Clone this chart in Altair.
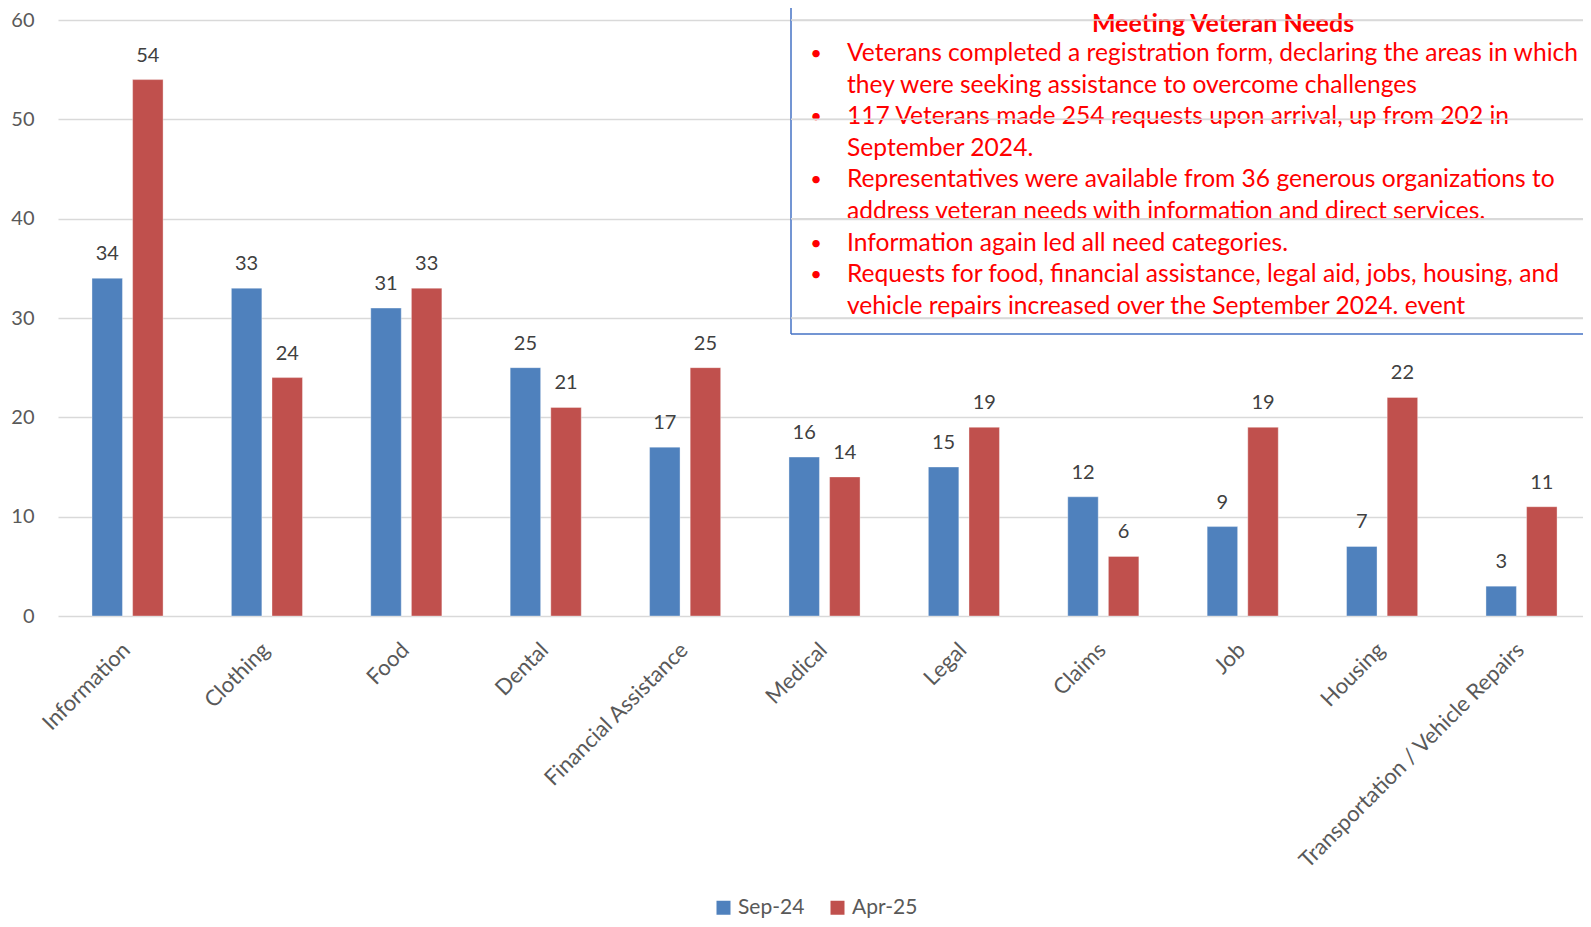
import altair as alt
import pandas as pd

categories = ["Information", "Clothing", "Food", "Dental", "Financial Assistance", "Medical",
              "Legal", "Claims", "Job", "Housing", "Transportation / Vehicle Repairs"]
sep24 = [34, 33, 31, 25, 17, 16, 15, 12, 9, 7, 3]
apr25 = [54, 24, 33, 21, 25, 14, 19, 6, 19, 22, 11]
series = ["Sep-24", "Apr-25"]
colors = ["#4F81BD", "#C0504D"]
y_ticks = [0, 10, 20, 30, 40, 50, 60]

note_title = "Meeting Veteran Needs"
note_lines = [
    "Veterans completed a registration form, declaring the areas in which",
    "they were seeking assistance to overcome challenges",
    "117 Veterans made 254 requests upon arrival, up from 202 in",
    "September 2024.",
    "Representatives were available from 36 generous organizations to",
    "address veteran needs with information and direct services.",
    "Information again led all need categories.",
    "Requests for food, financial assistance, legal aid, jobs, housing, and",
    "vehicle repairs increased over the September 2024. event",
]
note_bullets = [True, False, True, False, True, False, True, True, False]
overlay_grid = [30, 40, 50, 60]

rows = []
for c, a, b in zip(categories, sep24, apr25):
    rows.append({"category": c, "series": series[0], "value": a})
    rows.append({"category": c, "series": series[1], "value": b})
df = pd.DataFrame(rows)

W, H = 1525, 596
FONT = "Lato"

x_enc = alt.X("category:N", sort=categories,
              scale=alt.Scale(paddingInner=0.49, paddingOuter=0.215, align=0.567),
              axis=alt.Axis(title=None, labelAngle=-45, labelFontSize=22, labelColor="#595959",
                            labelBaseline="top", labelAlign="right", labelOffset=-8,
                            labelPadding=23, ticks=False, domain=False, labelLimit=500,
                            labelFont=FONT))
y_enc = alt.Y("value:Q", scale=alt.Scale(domain=[0, 60], nice=False),
              axis=alt.Axis(title=None, values=y_ticks, grid=True, gridColor="#D9D9D9",
                            gridWidth=1.5, ticks=False, domain=False, labelFontSize=20,
                            labelColor="#595959", labelPadding=24, labelFont=FONT))
xoff = alt.XOffset("series:N", sort=series, scale=alt.Scale(paddingInner=0.25, paddingOuter=0))
color_enc = alt.Color("series:N", sort=series,
                      scale=alt.Scale(domain=series, range=colors),
                      legend=alt.Legend(orient="none", legendX=655, legendY=877,
                                        direction="horizontal", title=None, symbolType="square",
                                        symbolSize=196, symbolStrokeWidth=0, labelFontSize=21,
                                        labelColor="#595959", columnPadding=22, padding=0,
                                        labelFont=FONT))

base = alt.Chart(df)
bars = base.mark_bar(stroke="#ffffff", strokeWidth=0.6, strokeOpacity=0.6).encode(
    x=x_enc, y=y_enc, xOffset=xoff, color=color_enc)
labels = base.mark_text(baseline="bottom", dy=-14, fontSize=20, color="#404040", font=FONT).encode(
    x=alt.X("category:N", sort=categories), y="value:Q", xOffset=xoff, text="value:Q")

layers = [bars, labels]

# text box border
layers.append(alt.Chart(pd.DataFrame({"a": [0]})).mark_rule(color="#4472C4", strokeWidth=1.5).encode(
    x=alt.value(733), y=alt.value(-20), y2=alt.value(314)))
layers.append(alt.Chart(pd.DataFrame({"a": [0]})).mark_rule(color="#4472C4", strokeWidth=1.5).encode(
    x=alt.value(733), x2=alt.value(W + 10), y=alt.value(314)))

layers.append(alt.Chart(pd.DataFrame({"t": [note_title]})).mark_text(
    fontSize=25, fontWeight="bold", color="#FF0000", baseline="middle", align="center", font=FONT
).encode(x=alt.value(1165), y=alt.value(4), text="t:N"))

y0, step = 34, 31.6
for i, (line, bullet) in enumerate(zip(note_lines, note_bullets)):
    yy = y0 + i * step
    layers.append(alt.Chart(pd.DataFrame({"t": [line]})).mark_text(
        fontSize=24.6, color="#FF0000", baseline="middle", align="left", font=FONT
    ).encode(x=alt.value(789), y=alt.value(yy), text="t:N"))
    if bullet:
        layers.append(alt.Chart(pd.DataFrame({"t": ["•"]})).mark_text(
            fontSize=20, color="#FF0000", baseline="middle", align="center", font=FONT
        ).encode(x=alt.value(758), y=alt.value(yy), text="t:N"))

# gridlines visible over the text box
layers.append(alt.Chart(pd.DataFrame({"v": overlay_grid})).mark_rule(
    color="#D9D9D9", strokeWidth=1.5
).encode(y=alt.Y("v:Q"), x=alt.value(733), x2=alt.value(W)))

chart = alt.layer(*layers).properties(
    width=W, height=H,
    padding={"left": 50, "top": 12, "right": 0, "bottom": 303},
    autosize="none",
).configure(font=FONT).configure_view(stroke=None)

chart.save("out.html", embed_options={"renderer": "svg", "actions": False})
